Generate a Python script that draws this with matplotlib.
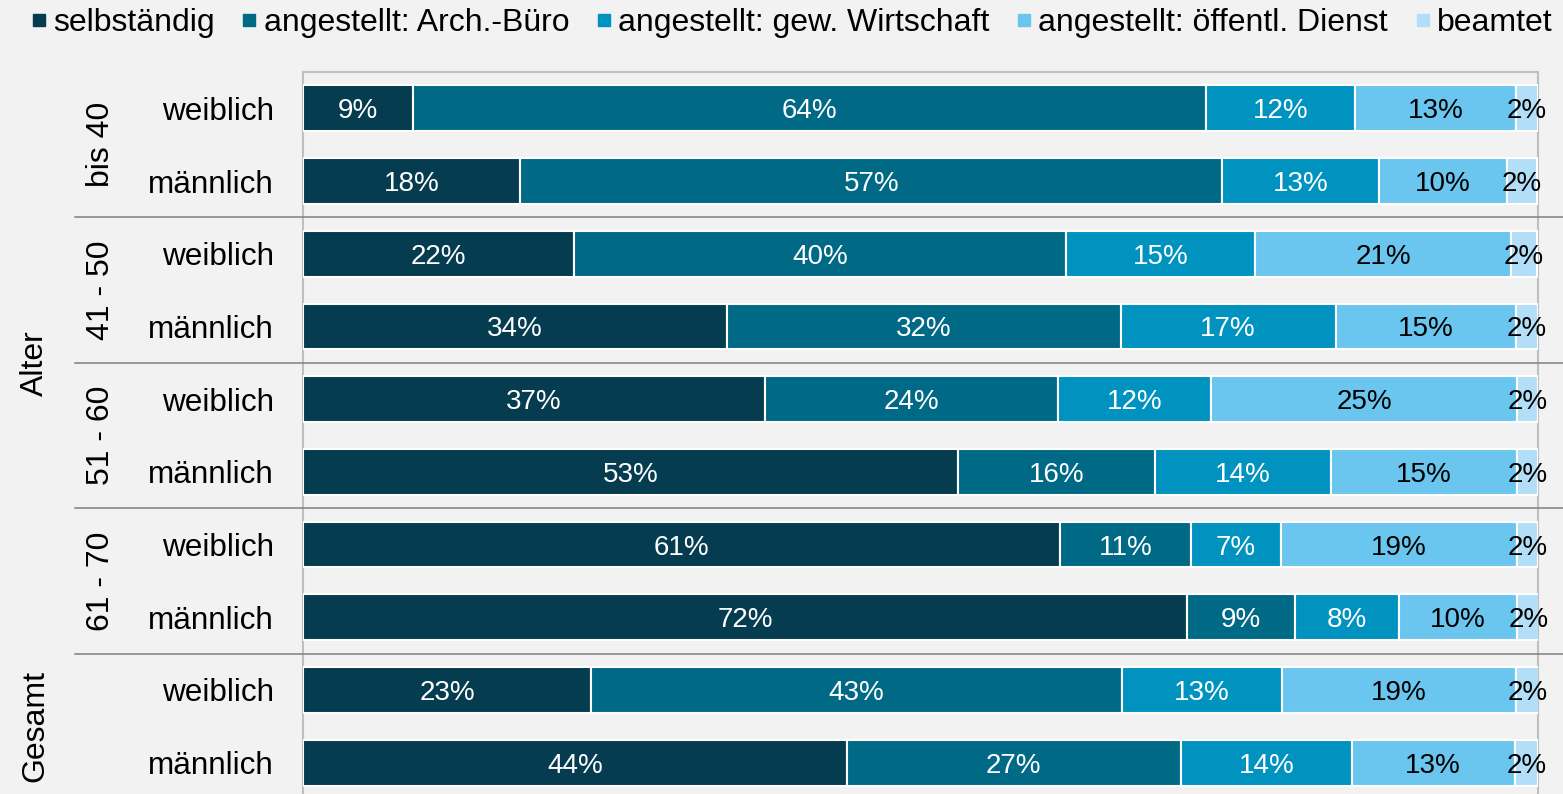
import matplotlib.pyplot as plt
from matplotlib.lines import Line2D

plt.rcParams["font.family"] = ["Liberation Sans", "DejaVu Sans"]

# data
categories = [
    "selbständig",
    "angestellt: Arch.-Büro",
    "angestellt: gew. Wirtschaft",
    "angestellt: öffentl. Dienst",
    "beamtet",
]
rows = ["weiblich", "männlich"] * 5
age_groups = ["bis 40", "41 - 50", "51 - 60", "61 - 70"]

selbstaendig = [8.9, 17.6, 21.9, 34.3, 37.4, 53.0, 61.3, 71.6, 23.3, 44.0]
arch_buero = [64.2, 56.8, 39.9, 31.9, 23.7, 16.0, 10.6, 8.7, 43.0, 27.1]
gew_wirtschaft = [12.1, 12.7, 15.3, 17.4, 12.4, 14.2, 7.3, 8.4, 13.0, 13.8]
oeff_dienst = [13.0, 10.4, 20.7, 14.6, 24.8, 15.1, 19.1, 9.6, 18.9, 13.2]
beamtet = [1.8, 2.4, 2.1, 1.8, 1.7, 1.7, 1.7, 1.8, 1.9, 1.9]

series = [selbstaendig, arch_buero, gew_wirtschaft, oeff_dienst, beamtet]
colors = ["#053c50", "#006a86", "#0093bf", "#6ac6ef", "#b2dff7"]
label_colors = ["white", "white", "white", "black", "black"]
bg = "#f2f2f2"

fig = plt.figure(figsize=(15.63, 7.94), dpi=100, facecolor=bg)
ax = fig.add_axes([0.1939, -0.0063, 0.7902, 0.9156], facecolor=bg)

y = list(range(len(rows)))
left = [0.0] * len(rows)
for vals, col, lcol in zip(series, colors, label_colors):
    ax.barh(y, vals, left=left, height=0.63, color=col,
            edgecolor="white", linewidth=1.5, zorder=3)
    for yi, l, v in zip(y, left, vals):
        ax.text(l + v / 2, yi, f"{v:.0f}%", ha="center", va="center_baseline",
                color=lcol, fontsize=20, zorder=5)
    left = [l + v for l, v in zip(left, vals)]

ax.set_xlim(0, 100)
ax.set_ylim(9.5, -0.5)
ax.set_xticks([])
ax.set_yticks(y)
ax.set_yticklabels(rows, fontsize=22.7)
ax.tick_params(axis="y", length=0, pad=21)

for side in ["top", "left", "right"]:
    ax.spines[side].set_color("#bfbfbf")
    ax.spines[side].set_linewidth(1.5)
ax.spines["bottom"].set_visible(False)

# group separators
trans = ax.get_yaxis_transform()
for ys in [1.5, 3.5, 5.5, 7.5]:
    ax.plot([-0.1846, 1.0202], [ys, ys], color="#808080", linewidth=1.1,
            transform=trans, clip_on=False, zorder=4)

# group labels
for i, g in enumerate(age_groups):
    ax.text(-0.1636, 2 * i + 0.5, g, transform=trans, rotation=90,
            ha="center", va="center", fontsize=23)
ax.text(-0.217, 3.5, "Alter", transform=trans, rotation=90,
        ha="center", va="center", fontsize=23)
ax.text(-0.217, 8.5, "Gesamt", transform=trans, rotation=90,
        ha="center", va="center", fontsize=23)

handles = [Line2D([], [], marker="s", linestyle="", color=c, markersize=8.5)
           for c in colors]
fig.legend(handles, categories, loc="center", bbox_to_anchor=(0.507, 0.971),
           ncol=5, frameon=False, fontsize=23, handlelength=0.4,
           handletextpad=0.25, columnspacing=0.88, borderaxespad=0)

plt.savefig("out.png", dpi=100, facecolor=bg)
plt.close()
